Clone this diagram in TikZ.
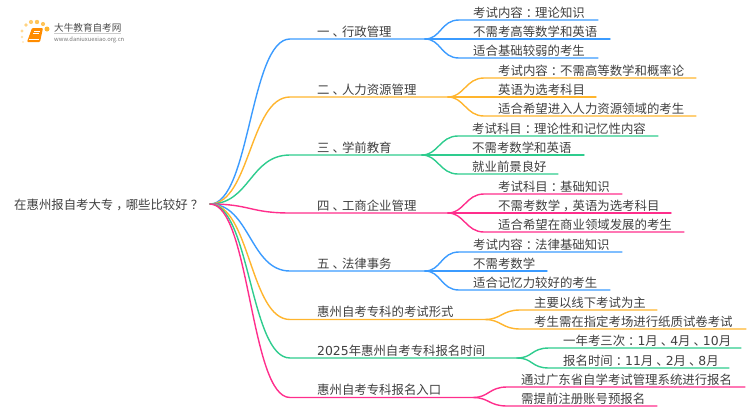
\documentclass[tikz,border=0pt]{standalone}
\usepackage{fontspec}
\setmainfont{Noto Sans CJK SC}
\newfontfamily\digitfont{DejaVu Sans}
\usetikzlibrary{positioning}
\definecolor{mapblue}{HTML}{3B9BFF}
\definecolor{maporange}{HTML}{FFB52E}
\definecolor{mapgreen}{HTML}{2ECC8E}
\definecolor{mappink}{HTML}{FF2E8C}
\newcommand{\dg}[1]{{\digitfont #1}}
\newcommand{\pn}[1]{\hspace{.24em}#1\hspace{-.24em}}
\tikzset{
    maptext/.style={anchor=base west, inner sep=0pt, text=black!75, font=\fontsize{12.4}{14}\selectfont},
    mapline/.style={line width=1.4pt, line cap=round},
}
\begin{document}
\begin{tikzpicture}[x=1pt,y=-1pt]
            \useasboundingbox (0,0) rectangle (750,410);
            % logo
            \foreach \dotx/\doty/\dotr/\dotop in {23/42/1.2/.3,22/37/1.4/.4,22/31/1.6/.5,26/25/1.9/.6,31/22/2.1/.7,37/22/2.2/.8,43/24/2.1/.8,47/29/2.5/1}
                \fill [maporange, opacity=\dotop] (\dotx,\doty) circle (\dotr);
            \fill [orange!90!yellow, rounded corners=1pt] (32,28) -- (43,28) -- (40,42) -- (27,42) -- cycle;
            \draw [white, line width=.6pt] (34,31) -- (40,31) (33,33.5) -- (39,33.5) (29,39.5) -- (39,39.5);
            \node [maptext, text=black!70, font=\fontsize{9.6}{10}\selectfont] (logotext) at (54,31) {大牛教育自考网};
            \draw [black!20, line width=.5pt] (54,33) -- (121,33);
            \node [maptext, text=black!55, font=\fontsize{5.8}{6}\selectfont] (logourl) at (54,41) {www.daniuxuexiao.org.cn};

            \node [maptext] (root) at (14,209) {在惠州报自考大专\pn{，}哪些比较好\pn{？}};
            \coordinate (start) at (210,204);

            % branches
            \foreach \name/\col/\y/\xend/\lab in {
                one/mapblue/39/425/一\pn{、}行政管理,
                two/maporange/97/448/二\pn{、}人力资源管理,
                three/mapgreen/155/422/三\pn{、}学前教育,
                four/mappink/213/448/四\pn{、}工商企业管理,
                five/mapblue/271/425/五\pn{、}法律事务,
                six/maporange/319.5/485/惠州自考专科的考试形式,
                seven/mapgreen/358/517/\dg{2025}年惠州自考专科报名时间,
                eight/mappink/397.5/473/惠州自考专科报名入口}
            {
                \node [maptext] (\name) at (317,\y-3) {\lab};
                \coordinate (\name end) at (\xend,\y);
                \draw [mapline, \col] (start) .. controls (250,204) and (250,\y) .. (290,\y) -- (\name end);
            }

            % leaves
            \foreach \name/\from/\col/\tx/\y/\xend/\lab in {
                a1/one/mapblue/473/20/598/考试内容\pn{：}理论知识,
                a2/one/mapblue/473/39/610/不需考高等数学和英语,
                a3/one/mapblue/473/58/598/适合基础较弱的考生,
                b1/two/maporange/498/78/696/考试内容\pn{：}不需高等数学和概率论,
                b2/two/maporange/498/97/596/英语为选考科目,
                b3/two/maporange/498/116/696/适合希望进入人力资源领域的考生,
                c1/three/mapgreen/472/136/658/考试科目\pn{：}理论性和记忆性内容,
                c2/three/mapgreen/472/155/584/不需考数学和英语,
                c3/three/mapgreen/472/174/558/就业前景良好,
                d1/four/mappink/498/194/622/考试科目\pn{：}基础知识,
                d2/four/mappink/498/213/671/不需考数学\pn{，}英语为选考科目,
                d3/four/mappink/498/232/684/适合希望在商业领域发展的考生,
                e1/five/mapblue/473/252/622/考试内容\pn{：}法律基础知识,
                e2/five/mapblue/473/271/547/不需考数学,
                e3/five/mapblue/473/290/610/适合记忆力较好的考生,
                f1/six/maporange/534/310/657/主要以线下考试为主,
                f2/six/maporange/534/329/746/考生需在指定考场进行纸质试卷考试,
                g1/seven/mapgreen/563/348/741/一年考三次\pn{：}\dg{1}月\pn{、}\dg{4}月\pn{、}\dg{10}月,
                g2/seven/mapgreen/563/368/729/报名时间\pn{：}\dg{11}月\pn{、}\dg{2}月\pn{、}\dg{8}月,
                h1/eight/mappink/521/387/745/通过广东省自学考试管理系统进行报名,
                h2/eight/mappink/521/406/657/需提前注册账号预报名}
            {
                \node [maptext] (\name) at (\tx,\y-3) {\lab};
                \coordinate (\name end) at (\xend,\y);
                \draw [mapline, \col] (\from end) .. controls +(16,0) and (\tx-32,\y) .. (\tx-14,\y) -- (\name end);
            }
        \end{tikzpicture}
\end{document}
